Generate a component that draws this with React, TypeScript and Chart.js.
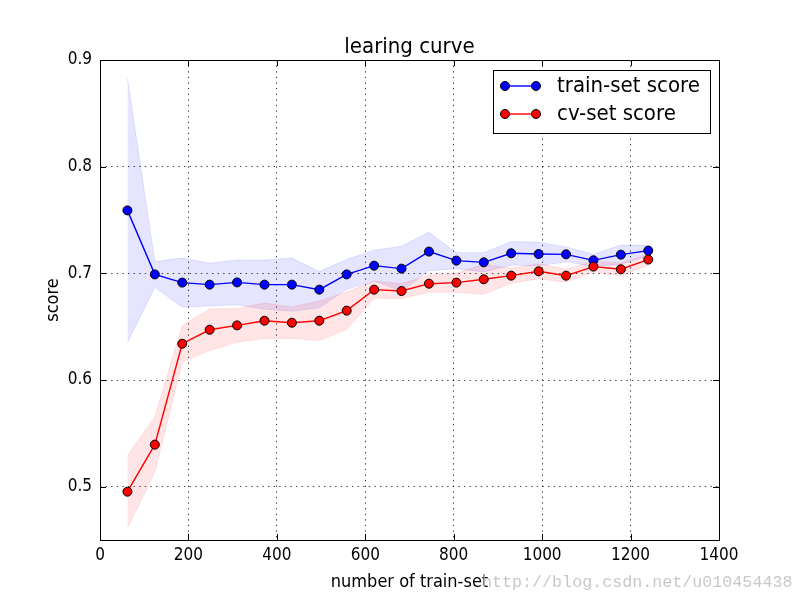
import React, { useEffect, useRef } from "react";
import { Chart, registerables } from "chart.js";

Chart.register(...registerables);

const trainSizes = [62, 124, 186, 248, 310, 372, 434, 496, 558, 620, 682, 744, 806, 868, 930, 992, 1054, 1116, 1178, 1240];
const trainMean = [0.759, 0.699, 0.6913, 0.6894, 0.6915, 0.6894, 0.6894, 0.6847, 0.699, 0.7072, 0.7044, 0.7204, 0.7119, 0.7103, 0.7188, 0.7181, 0.7178, 0.7122, 0.7175, 0.7213];
const trainStd = [0.124, 0.012, 0.023, 0.02, 0.021, 0.023, 0.025, 0.017, 0.014, 0.0145, 0.021, 0.018, 0.0075, 0.009, 0.011, 0.011, 0.007, 0.0056, 0.009, 0.005];
const cvMean = [0.4953, 0.5394, 0.634, 0.6471, 0.6512, 0.6556, 0.6537, 0.6556, 0.665, 0.6847, 0.6834, 0.6903, 0.6913, 0.6944, 0.6978, 0.7019, 0.6978, 0.7063, 0.7038, 0.7129];
const cvStd = [0.034, 0.026, 0.017, 0.0195, 0.0156, 0.0166, 0.0147, 0.0185, 0.0175, 0.008, 0.007, 0.008, 0.009, 0.014, 0.007, 0.007, 0.006, 0.005, 0.006, 0.005];

const xTicks = [0, 200, 400, 600, 800, 1000, 1200, 1400];
const yTicks = [0.5, 0.6, 0.7, 0.8, 0.9];
const xRange = [0, 1400];
const yRange = [0.45, 0.9];

const titleText = "learing curve";
const xLabel = "number of train-set";
const yLabel = "score";
const seriesNames = ["train-set score", "cv-set score"];
const watermark = "http://blog.csdn.net/u010454438";

const FONT = '"DejaVu Sans Condensed", "DejaVu Sans", sans-serif';

const pts = (ys: number[]) => trainSizes.map((x, i) => ({ x, y: ys[i] }));

const decorPlugin = {
  id: "decor",
  afterDraw(chart: any) {
    const { ctx, chartArea } = chart;
    const { left, right, top, bottom } = chartArea;
    const xs = chart.scales.x;
    const ys = chart.scales.y;
    ctx.save();
    // frame
    ctx.strokeStyle = "#000";
    ctx.lineWidth = 1;
    ctx.strokeRect(Math.round(left) + 0.5, Math.round(top) + 0.5, Math.round(right - left), Math.round(bottom - top));
    // inward ticks
    const tl = 6;
    ctx.beginPath();
    xTicks.forEach((v) => {
      const px = Math.round(xs.getPixelForValue(v)) + 0.5;
      ctx.moveTo(px, bottom);
      ctx.lineTo(px, bottom - tl);
      ctx.moveTo(px, top);
      ctx.lineTo(px, top + tl);
    });
    yTicks.forEach((v) => {
      const py = Math.round(ys.getPixelForValue(v)) + 0.5;
      ctx.moveTo(left, py);
      ctx.lineTo(left + tl, py);
      ctx.moveTo(right, py);
      ctx.lineTo(right - tl, py);
    });
    ctx.stroke();

    // title
    ctx.fillStyle = "#000";
    ctx.textAlign = "center";
    ctx.textBaseline = "alphabetic";
    ctx.font = `22px ${FONT}`;
    ctx.fillText(titleText, (left + right) / 2, 53);
    // x label
    ctx.font = `18px ${FONT}`;
    ctx.fillText(xLabel, (left + right) / 2, 587);
    // y label
    ctx.save();
    ctx.translate(58, (top + bottom) / 2);
    ctx.rotate(-Math.PI / 2);
    ctx.fillText(yLabel, 0, 0);
    ctx.restore();

    // legend
    const bx = 493.5, by = 70.5, bw = 217, bh = 63;
    ctx.fillStyle = "#fff";
    ctx.fillRect(bx, by, bw, bh);
    ctx.strokeStyle = "#000";
    ctx.lineWidth = 1;
    ctx.strokeRect(bx, by, bw, bh);
    const colors = ["#0000ff", "#ff0000"];
    const rowsY = [86, 114];
    rowsY.forEach((yy, i) => {
      ctx.strokeStyle = colors[i];
      ctx.lineWidth = 1.4;
      ctx.beginPath();
      ctx.moveTo(505, yy);
      ctx.lineTo(536, yy);
      ctx.stroke();
      [505, 536].forEach((mx) => {
        ctx.beginPath();
        ctx.arc(mx, yy, 4.5, 0, Math.PI * 2);
        ctx.fillStyle = colors[i];
        ctx.fill();
        ctx.strokeStyle = "#000";
        ctx.lineWidth = 1;
        ctx.stroke();
      });
      ctx.fillStyle = "#000";
      ctx.font = `22px ${FONT}`;
      ctx.textAlign = "left";
      ctx.textBaseline = "middle";
      ctx.fillText(seriesNames[i], 557, yy);
    });

    // watermark
    ctx.font = '16.7px "Liberation Mono", monospace';
    ctx.fillStyle = "rgba(190,190,190,0.85)";
    ctx.textAlign = "left";
    ctx.textBaseline = "alphabetic";
    ctx.fillText(watermark, 482, 587);
    ctx.restore();
  },
};

export default function App() {
  const ref = useRef<HTMLCanvasElement | null>(null);
  useEffect(() => {
    if (!ref.current) return;
    const trainUpper = trainMean.map((m, i) => m + trainStd[i]);
    const trainLower = trainMean.map((m, i) => m - trainStd[i]);
    const cvUpper = cvMean.map((m, i) => m + cvStd[i]);
    const cvLower = cvMean.map((m, i) => m - cvStd[i]);
    const band = (data: number[], color: string, fill: any, order: number) => ({
      data: pts(data),
      borderColor: color,
      backgroundColor: color,
      borderWidth: 1,
      pointRadius: 0,
      fill,
      order,
      tension: 0,
    });
    const line = (data: number[], color: string, order: number, label: string) => ({
      label,
      data: pts(data),
      borderColor: color,
      backgroundColor: color,
      borderWidth: 1.4,
      pointRadius: 4.5,
      pointBackgroundColor: color,
      pointBorderColor: "#000",
      pointBorderWidth: 1,
      fill: false,
      order,
      tension: 0,
    });
    const chart = new Chart(ref.current, {
      type: "line",
      data: {
        datasets: [
          line(trainMean, "#0000ff", 1, seriesNames[0]),
          line(cvMean, "#ff0000", 0, seriesNames[1]),
          band(trainUpper, "rgba(0,0,255,0.1)", "+1", 5),
          band(trainLower, "rgba(0,0,255,0.1)", false, 5),
          band(cvUpper, "rgba(255,0,0,0.1)", "+1", 4),
          band(cvLower, "rgba(255,0,0,0.1)", false, 4),
        ] as any,
      },
      options: {
        animation: false,
        responsive: false,
        events: [],
        layout: { padding: { left: 0, top: 60, right: 81, bottom: 0 } },
        plugins: { legend: { display: false }, title: { display: false }, tooltip: { enabled: false } },
        scales: {
          x: {
            type: "linear",
            min: xRange[0],
            max: xRange[1],
            afterFit: (s: any) => { s.height = 60; },
            afterBuildTicks: (s: any) => { s.ticks = xTicks.map((v) => ({ value: v })); },
            grid: { color: "rgba(0,0,0,0.75)", lineWidth: 1, drawTicks: false },
            border: { display: false, dash: [1.4, 4.2] },
            ticks: { color: "#000", font: { family: FONT, size: 17 }, padding: 5, maxRotation: 0, callback: (v: any) => String(v) },
          },
          y: {
            type: "linear",
            min: yRange[0],
            max: yRange[1],
            afterFit: (s: any) => { s.width = 100; },
            afterBuildTicks: (s: any) => { s.ticks = yTicks.map((v) => ({ value: v })); },
            grid: { color: "rgba(0,0,0,0.75)", lineWidth: 1, drawTicks: false },
            border: { display: false, dash: [1.4, 4.2] },
            ticks: { color: "#000", font: { family: FONT, size: 17 }, padding: 8, callback: (v: any) => Number(v).toFixed(1) },
          },
        },
      } as any,
      plugins: [decorPlugin],
    });
    return () => chart.destroy();
  }, []);
  return (
    <div style={{ position: "absolute", left: 0, top: 0, width: 800, height: 600, background: "#fff" }}>
      <canvas ref={ref} width={800} height={600} style={{ display: "block" }} />
    </div>
  );
}
